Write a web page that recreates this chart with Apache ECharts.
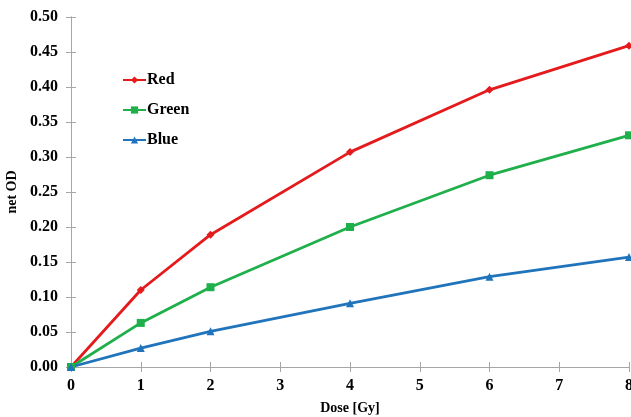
<!DOCTYPE html>
<html><head><meta charset="utf-8">
<script src="https://cdn.jsdelivr.net/npm/echarts@6/dist/echarts.min.js"></script>
<style>html,body{margin:0;padding:0;background:#fff}#c{width:631px;height:417px}</style>
</head><body><div id="c"></div>
<script>
const doses = [0, 1, 2, 4, 6, 8];
const red = [0, 0.110, 0.189, 0.307, 0.396, 0.459];
const green = [0, 0.063, 0.114, 0.200, 0.274, 0.331];
const blue = [0, 0.027, 0.051, 0.091, 0.129, 0.157];
const yTicks = ['0.00','0.05','0.10','0.15','0.20','0.25','0.30','0.35','0.40','0.45','0.50'];

const font = '"Liberation Serif", "Times New Roman", serif';
const axisCol = '#a6a6a6';
const pairs = arr => doses.map((d, i) => [d, arr[i]]);
const chart = echarts.init(document.getElementById('c'));
const baseX = {
  type: 'value', min: 0, max: 8, interval: 1,
  axisLine: { lineStyle: { color: axisCol, width: 1 } },
  splitLine: { show: false }
};
const baseY = {
  type: 'value', min: 0, max: 0.5, interval: 0.05,
  axisLine: { show: true, lineStyle: { color: axisCol, width: 1 } },
  splitLine: { show: false }
};
chart.setOption({
  animation: false,
  grid: { left: 71, right: 2, top: 17, bottom: 50, containLabel: false, outerBoundsMode: 'none' },
  legend: {
    orient: 'vertical', left: 117, top: 67, itemGap: 14,
    itemWidth: 23, itemHeight: 9,
    textStyle: { fontFamily: font, fontWeight: 'bold', fontSize: 16, color: '#000', padding: [0,0,0,-4] },
    data: ['Red', 'Green', 'Blue']
  },
  xAxis: [
    Object.assign({}, baseX, {
      name: 'Dose [Gy]', nameLocation: 'middle', nameGap: 34,
      nameTextStyle: { fontFamily: font, fontWeight: 'bold', fontSize: 14, color: '#000' },
      axisTick: { show: true, inside: false, length: 5, lineStyle: { color: axisCol } },
      axisLabel: { fontFamily: font, fontWeight: 'bold', fontSize: 16, color: '#000', margin: 11 }
    }),
    Object.assign({}, baseX, {
      position: 'bottom',
      axisTick: { show: true, inside: true, length: 5, lineStyle: { color: axisCol } },
      axisLabel: { show: false }
    })
  ],
  yAxis: [
    Object.assign({}, baseY, {
      name: 'net OD', nameLocation: 'middle', nameGap: 48, nameRotate: 90,
      nameTextStyle: { fontFamily: font, fontWeight: 'bold', fontSize: 14, color: '#000' },
      axisTick: { show: true, inside: false, length: 5, lineStyle: { color: axisCol } },
      axisLabel: { fontFamily: font, fontWeight: 'bold', fontSize: 16, color: '#000', margin: 13,
        formatter: (v) => yTicks[Math.round(v / 0.05)] }
    }),
    Object.assign({}, baseY, {
      position: 'left',
      axisTick: { show: true, inside: true, length: 5, lineStyle: { color: axisCol } },
      axisLabel: { show: false }
    })
  ],
  series: [
    { name: 'Red', type: 'line', data: pairs(red), color: '#E41A1C',
      symbol: 'diamond', symbolSize: 8, lineStyle: { width: 2.8 } },
    { name: 'Green', type: 'line', data: pairs(green), color: '#1FAF4B',
      symbol: 'rect', symbolSize: 8, lineStyle: { width: 2.8 } },
    { name: 'Blue', type: 'line', data: pairs(blue), color: '#1F74BB',
      symbol: 'triangle', symbolSize: 8, lineStyle: { width: 2.8 } }
  ]
});
</script></body></html>
